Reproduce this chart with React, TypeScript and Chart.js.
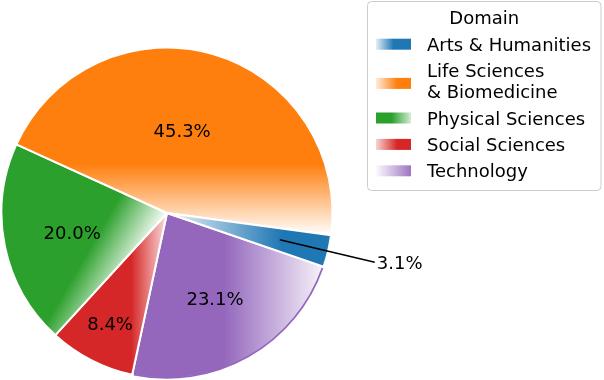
import React, { useEffect, useRef } from 'react';
import { Chart, registerables } from 'chart.js';

Chart.register(...registerables);

// ---- data (natural / legend order) ----
const categories = ['Arts & Humanities', 'Life Sciences & Biomedicine', 'Physical Sciences', 'Social Sciences', 'Technology'];
const legendLines = [['Arts & Humanities'], ['Life Sciences', '& Biomedicine'], ['Physical Sciences'], ['Social Sciences'], ['Technology']];
const shares = [3.1, 45.3, 20.0, 8.4, 23.1];
const legendTitle = 'Domain';

// ---- styles ----
const baseColors = ['#1f77b4', '#ff7f0e', '#2ca02c', '#d62728', '#9467bd'];
// direction (screen degrees) along which each wedge fades from solid to pale
const fadeDirections = [180, 90, 30, 0, 0];
const fadeStops: number[][][] = [
  [[0, 1], [0.3, 1], [1, 0.08]],
  [[0, 1], [0.62, 1], [1, 0]],
  [[0, 1], [0.7, 1], [1, 0.04]],
  [[0, 1], [0.68, 1], [1, 0.15]],
  [[0, 1], [0.48, 1], [1, 0.08]],
];
// legend swatch alpha, left -> right
const swatchStops: number[][][] = [
  [[0, 0.12], [0.5, 1], [1, 1]],
  [[0, 0.15], [0.6, 1], [1, 1]],
  [[0, 1], [0.45, 1], [1, 0.2]],
  [[0, 0.2], [0.6, 1], [1, 1]],
  [[0, 0.03], [1, 0.9]],
];
const labelRadius = [1.29, 0.51, 0.585, 0.75, 0.59];
const labelAngleShift = [0, -5.8, 0, 0, 0];

const ROTATION = 108.9;
const RADIUS = 165.5;
const FONT = '18px "DejaVu Sans", sans-serif';

// Chart.js sweeps clockwise; the reference runs counter-clockwise, so feed it reversed
const order = [4, 3, 2, 1, 0];
const chartValues = order.map((i) => shares[i]);

function rgba(hex: string, a: number) {
  const n = parseInt(hex.slice(1), 16);
  return `rgba(${(n >> 16) & 255},${(n >> 8) & 255},${n & 255},${a})`;
}

function wedgeFill(chart: any, chartIdx: number) {
  const nat = order[chartIdx];
  const ca = chart.chartArea;
  if (!ca) return baseColors[nat];
  const cx = (ca.left + ca.right) / 2;
  const cy = (ca.top + ca.bottom) / 2;
  const total = chartValues.reduce((a, b) => a + b, 0);
  let start = (ROTATION * Math.PI) / 180 - Math.PI / 2;
  for (let k = 0; k < chartIdx; k++) start += (chartValues[k] / total) * Math.PI * 2;
  const end = start + (chartValues[chartIdx] / total) * Math.PI * 2;
  const phi = (fadeDirections[nat] * Math.PI) / 180;
  const ux = Math.cos(phi);
  const uy = Math.sin(phi);
  let mn = 0;
  let mx = 0;
  for (let s = 0; s <= 80; s++) {
    const a = start + ((end - start) * s) / 80;
    const p = RADIUS * (Math.cos(a) * ux + Math.sin(a) * uy);
    mn = Math.min(mn, p);
    mx = Math.max(mx, p);
  }
  const g = chart.ctx.createLinearGradient(cx + ux * mn, cy + uy * mn, cx + ux * mx, cy + uy * mx);
  fadeStops[nat].forEach(([t, a]) => g.addColorStop(t, rgba(baseColors[nat], a)));
  return g;
}

const overlayPlugin = {
  id: 'overlay',
  afterDatasetsDraw(chart: any) {
    const ctx = chart.ctx;
    const meta = chart.getDatasetMeta(0);
    ctx.save();
    // purple outer rim
    meta.data.forEach((el: any, k: number) => {
      const nat = order[k];
      if (nat !== 4) return;
      ctx.beginPath();
      ctx.arc(el.x, el.y, el.outerRadius - 0.6, el.startAngle + 0.01, el.endAngle - 0.01);
      ctx.strokeStyle = baseColors[nat];
      ctx.lineWidth = 1.8;
      ctx.stroke();
    });
    // percentage labels
    ctx.font = FONT;
    ctx.fillStyle = '#000';
    const total = shares.reduce((a, b) => a + b, 0);
    meta.data.forEach((el: any, k: number) => {
      const nat = order[k];
      const mid = (el.startAngle + el.endAngle) / 2 + (labelAngleShift[nat] * Math.PI) / 180;
      const r = el.outerRadius * labelRadius[nat];
      const x = el.x + Math.cos(mid) * r;
      const y = el.y + Math.sin(mid) * r;
      const txt = ((shares[nat] / total) * 100).toFixed(1) + '%';
      if (labelRadius[nat] > 1) {
        const r0 = el.outerRadius * 0.7;
        ctx.beginPath();
        ctx.moveTo(el.x + Math.cos(mid) * r0, el.y + Math.sin(mid) * r0);
        ctx.lineTo(x, y);
        ctx.strokeStyle = '#000';
        ctx.lineWidth = 1.5;
        ctx.stroke();
        ctx.textAlign = 'left';
        ctx.textBaseline = 'alphabetic';
        ctx.fillText(txt, x + 2, y + 6.6);
      } else {
        ctx.textAlign = 'center';
        ctx.textBaseline = 'alphabetic';
        ctx.fillText(txt, x, y + 6.6);
      }
    });
    // legend
    const bx = 367.5, by = 1.5, bw = 233.5, bh = 189;
    ctx.beginPath();
    ctx.roundRect(bx, by, bw, bh, 4);
    ctx.fillStyle = 'rgba(255,255,255,0.8)';
    ctx.fill();
    ctx.strokeStyle = '#cccccc';
    ctx.lineWidth = 1;
    ctx.stroke();
    ctx.fillStyle = '#000';
    ctx.textAlign = 'center';
    ctx.fillText(legendTitle, bx + bw / 2, 24);
    ctx.textAlign = 'left';
    let base = 50.8;
    legendLines.forEach((lines, i) => {
      const first = base;
      lines.forEach((ln, j) => {
        ctx.fillStyle = '#000';
        ctx.fillText(ln, 427, base);
        if (j < lines.length - 1) base += 21;
      });
      const last = base;
      const cyS = (first + last) / 2 - 6.6 + (lines.length > 1 ? 2.3 : 0);
      const sx = 376, sw = 35, sh = 11;
      const g = ctx.createLinearGradient(sx, 0, sx + sw, 0);
      swatchStops[i].forEach(([t, a]) => g.addColorStop(t, rgba(baseColors[i], a)));
      ctx.fillStyle = g;
      ctx.fillRect(sx, cyS - sh / 2, sw, sh);
      base += 26.4;
    });
    ctx.restore();
  },
};

export default function App() {
  const ref = useRef<HTMLCanvasElement | null>(null);
  useEffect(() => {
    if (!ref.current) return;
    const chart = new Chart(ref.current, {
      type: 'pie',
      data: {
        labels: order.map((i) => categories[i]),
        datasets: [
          {
            data: chartValues,
            backgroundColor: (c: any) => (c.dataIndex === undefined ? '#ccc' : wedgeFill(c.chart, c.dataIndex)),
            borderColor: '#ffffff',
            borderWidth: 2,
            radius: RADIUS,
          } as any,
        ],
      },
      options: {
        responsive: false,
        animation: false,
        rotation: ROTATION,
        layout: { padding: { left: 0, right: 270, top: 46, bottom: 0 } },
        plugins: { legend: { display: false }, tooltip: { enabled: false } },
      },
      plugins: [overlayPlugin],
    });
    return () => chart.destroy();
  }, []);
  return (
    <div style={{ position: 'fixed', left: 0, top: 0, width: 604, height: 380, background: '#fff' }}>
      <canvas ref={ref} width={604} height={380} style={{ width: 604, height: 380 }} />
    </div>
  );
}
